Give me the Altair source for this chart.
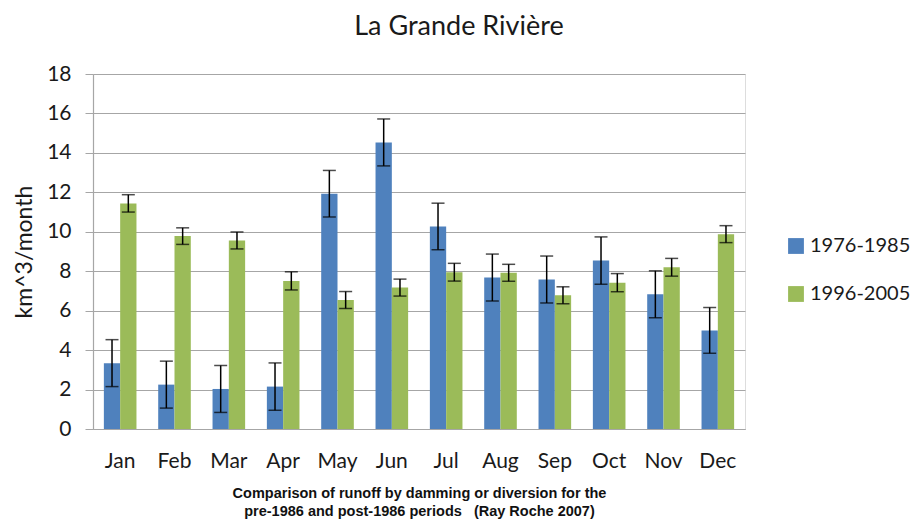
import altair as alt
import pandas as pd

months = ["Jan", "Feb", "Mar", "Apr", "May", "Jun", "Jul", "Aug", "Sep", "Oct", "Nov", "Dec"]
periods = ["1976-1985", "1996-2005"]
pre_vals = [3.34, 2.25, 2.03, 2.15, 11.93, 14.53, 10.27, 7.68, 7.58, 8.54, 6.83, 5.00]
pre_err = [1.19, 1.19, 1.19, 1.20, 1.18, 1.19, 1.18, 1.19, 1.19, 1.20, 1.19, 1.16]
post_vals = [11.44, 9.78, 9.56, 7.51, 6.54, 7.17, 7.95, 7.92, 6.78, 7.42, 8.20, 9.88]
post_err = [0.44, 0.42, 0.43, 0.46, 0.43, 0.43, 0.45, 0.43, 0.43, 0.46, 0.45, 0.43]
y_ticks = list(range(0, 19, 2))
colors = ["#4F81BD", "#9BBB59"]

rows = []
for vals, errs, p in [(pre_vals, pre_err, periods[0]), (post_vals, post_err, periods[1])]:
    for m, v, e in zip(months, vals, errs):
        rows.append({"month": m, "period": p, "value": v, "lo": v - e, "hi": v + e})
df = pd.DataFrame(rows)

FONT = "Lato"
NB = "\u00a0"

x_axis = alt.Axis(labelAngle=0, labelFont=FONT, labelFontSize=21, labelColor="#1a1a1a",
                  labelPadding=21, ticks=False, domainColor="#a6a6a6", domainWidth=1.2,
                  titleFont="Liberation Sans", titleFontWeight="bold", titleFontSize=14.5,
                  titleColor="#111111", titlePadding=15, titleLineHeight=18,
                  titleX=326, titleAnchor="middle")
x = alt.X("month:N", sort=months,
          title=["Comparison of runoff by damming or diversion for the",
                 "pre-1986 and post-1986 periods" + NB * 3 + "(Ray Roche 2007)"],
          scale=alt.Scale(paddingInner=0.4, paddingOuter=0.2), axis=x_axis)
xo = alt.XOffset("period:N", sort=periods, scale=alt.Scale(paddingInner=0, paddingOuter=0))

y_axis = alt.Axis(values=y_ticks, labelFont=FONT, labelFontSize=21,
                  labelColor="#1a1a1a", labelPadding=14, tickColor="#a6a6a6", tickSize=8,
                  gridColor="#a6a6a6", gridWidth=1.2, domainColor="#a6a6a6", domainWidth=1.2,
                  titleFont=FONT, titleFontSize=23, titleFontWeight="normal",
                  titleColor="#1a1a1a", titlePadding=10, labelOverlap=False)
y_scale = alt.Scale(domain=[0, 18], nice=False)

base = alt.Chart(df)

bars = base.mark_bar().encode(
    x=x,
    xOffset=xo,
    y=alt.Y("value:Q", title="km^3/month", scale=y_scale, axis=y_axis),
    color=alt.Color("period:N", sort=periods, scale=alt.Scale(domain=periods, range=colors),
                    legend=alt.Legend(title=None, orient="none", legendX=693, legendY=162,
                                      symbolType="square", symbolSize=250, symbolStrokeWidth=0,
                                      labelFont=FONT, labelFontSize=20, labelColor="#1a1a1a",
                                      rowPadding=28, labelOffset=4, padding=0)),
)

rules = base.mark_rule(color="black", strokeWidth=1.5).encode(
    x=alt.X("month:N", sort=months), xOffset=xo,
    y=alt.Y("lo:Q", scale=y_scale, axis=y_axis, title="km^3/month"), y2="hi:Q")
cap_lo = base.mark_tick(color="black", thickness=1.5, size=13).encode(
    x=alt.X("month:N", sort=months), xOffset=xo,
    y=alt.Y("lo:Q", scale=y_scale, axis=y_axis, title="km^3/month"))
cap_hi = base.mark_tick(color="black", thickness=1.5, size=13).encode(
    x=alt.X("month:N", sort=months), xOffset=xo,
    y=alt.Y("hi:Q", scale=y_scale, axis=y_axis, title="km^3/month"))

chart = alt.layer(bars, rules, cap_lo, cap_hi).properties(
    width=652, height=355,
    title=alt.TitleParams("La Grande Rivière", font=FONT, fontSize=27, fontWeight="normal",
                          color="#1a1a1a", offset=22, dx=40, anchor="middle"),
    autosize=alt.AutoSizeParams(type="none"),
    padding={"left": 85, "top": 66, "right": 167, "bottom": 90},
).configure_view(stroke=None).configure(background="white")

chart.save("out.html", embed_options={"renderer": "svg", "actions": False})
